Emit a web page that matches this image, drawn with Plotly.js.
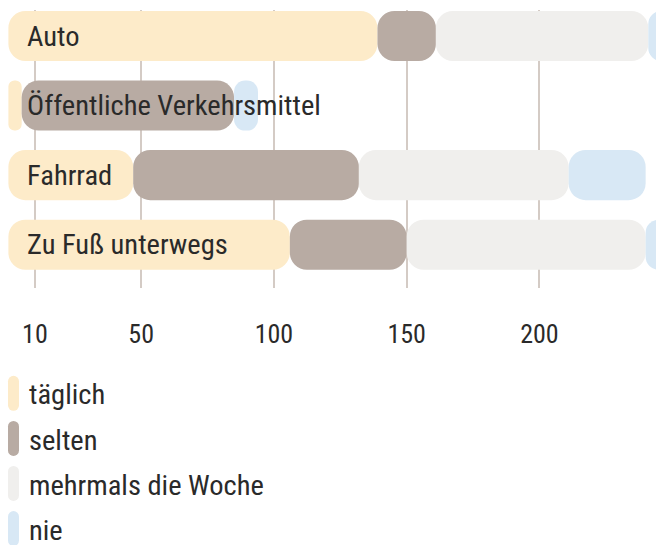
<!DOCTYPE html>
<html><head><meta charset="utf-8">
<script src="https://cdn.plot.ly/plotly-3.0.1.min.js"></script>
<style>html,body{margin:0;padding:0;background:#fff;overflow:hidden}#wrap{width:656px;height:545px;overflow:hidden}</style>
</head><body><div id="wrap"><div id="chart"></div></div>
<script>
const categories = ["Auto", "Öffentliche Verkehrsmittel", "Fahrrad", "Zu Fuß unterwegs"];
const seriesNames = ["täglich", "selten", "mehrmals die Woche", "nie"];
const taeglich = [139, 5, 47, 106];
const selten = [22, 80, 85, 44];
const mehrmals = [80, 0, 79, 90];
const nie = [10, 9, 29, 10];
const tickValues = [10, 50, 100, 150, 200];

const seriesValues = [taeglich, selten, mehrmals, nie];
const colors = ["#fdebc9", "#b8aba3", "#f0efed", "#d8e8f5"];
const FONT = "'Liberation Sans Narrow', 'Roboto Condensed', Roboto, sans-serif";
const TEXT = "#2a2a2a";

const traces = [];
const cum = categories.map(() => 0);
seriesValues.forEach((vals, s) => {
  const starts = cum.slice();
  vals.forEach((v, i) => { cum[i] += v; });
  traces.push({
    type: "bar", orientation: "h", y: categories, x: vals, base: starts,
    width: 0.72, hoverinfo: "skip", name: seriesNames[s], legendgroup: "g" + s,
    marker: { color: colors[s], cornerradius: 17, line: { width: 0 } }
  });
});

const annotations = categories.map(c => ({
  x: 0, y: c, xref: "x", yref: "y", text: c, showarrow: false,
  xanchor: "left", yanchor: "middle", xshift: 17,
  font: { family: FONT, size: 28.5, color: TEXT }
}));

const layout = {
  width: 656, height: 560,
  margin: { l: 0, r: 0, t: 10, b: 272 },
  paper_bgcolor: "#fff", plot_bgcolor: "#fff",
  barmode: "overlay", bargap: 0.28,
  font: { family: FONT, size: 28.5, color: TEXT },
  xaxis: {
    range: [-3.16, 243.9], tickvals: tickValues, ticktext: tickValues.map(String),
    showgrid: true, gridcolor: "#d4cbc5", gridwidth: 2, zeroline: false, showline: false,
    ticks: "", ticklabelstandoff: 28, tickfont: { family: FONT, size: 26, color: TEXT },
    fixedrange: true
  },
  yaxis: {
    type: "category", categoryorder: "array", categoryarray: categories,
    range: [3.623, -0.374], showticklabels: false, showgrid: false, zeroline: false,
    showline: false, ticks: "", fixedrange: true
  },
  legend: {
    orientation: "v", x: 0, xanchor: "left", y: -0.289, yanchor: "top",
    font: { family: FONT, size: 28.5, color: TEXT }, tracegroupgap: 5,
    bgcolor: "rgba(0,0,0,0)", borderwidth: 0, traceorder: "grouped"
  },
  annotations: annotations,
  showlegend: true
};

Plotly.newPlot("chart", traces, layout, { displayModeBar: false, staticPlot: true }).then(gd => {
  gd.querySelectorAll(".legend .traces .legendpoints path").forEach(p => {
    p.setAttribute("d", "M-12,-12A5.5,5.5 0 0 1 -1,-12V12A5.5,5.5 0 0 1 -12,12Z");
  });
  gd.querySelectorAll(".legend .traces text.legendtext").forEach(t => {
    t.setAttribute("x", "29");
  });
});
</script>
</body></html>
